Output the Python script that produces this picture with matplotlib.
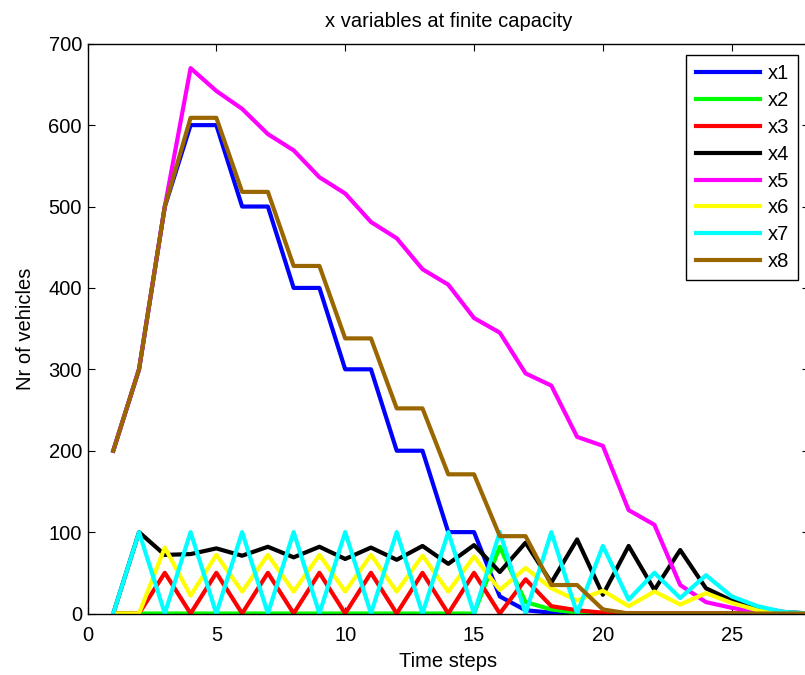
import matplotlib
matplotlib.use("Agg")
import matplotlib.pyplot as plt

plt.rcParams['font.family'] = ['Liberation Sans', 'DejaVu Sans']

t = list(range(1, 29))
x1 = [200, 300, 500, 600, 600, 500, 500, 400, 400, 300, 300, 200, 200, 100, 100, 21, 4, 1, 0, 0, 0, 0, 0, 0, 0, 0, 0, 0]
x2 = [0, 0, 0, 0, 0, 0, 0, 0, 0, 0, 0, 0, 0, 0, 0, 82, 14, 5, 1, 0, 0, 0, 0, 0, 0, 0, 0, 0]
x3 = [0, 0, 50, 0, 50, 0, 50, 0, 50, 0, 50, 0, 50, 0, 50, 0, 42, 9, 4, 1, 0, 0, 0, 0, 0, 0, 0, 0]
x4 = [0, 100, 72, 73, 80, 71, 82, 69, 82, 67, 81, 66, 83, 61, 84, 51, 87, 38, 91, 23, 83, 29, 78, 31, 16, 7, 2, 0]
x5 = [200, 300, 500, 670, 642, 620, 589, 569, 536, 516, 481, 461, 423, 404, 363, 345, 295, 280, 217, 206, 127, 109, 35, 14, 7, 2, 0, 0]
x6 = [0, 0, 81, 22, 72, 27, 72, 27, 72, 27, 72, 27, 71, 27, 70, 29, 56, 31, 16, 28, 9, 27, 11, 25, 13, 4, 1, 0]
x7 = [0, 100, 0, 100, 0, 100, 0, 100, 0, 100, 0, 100, 0, 100, 0, 100, 0, 100, 0, 83, 17, 50, 19, 47, 21, 9, 2, 0]
x8 = [200, 300, 500, 609, 609, 518, 518, 427, 427, 338, 338, 252, 252, 171, 171, 95, 95, 35, 35, 5, 0, 0, 0, 0, 0, 0, 0, 0]

series = [x1, x2, x3, x4, x5, x6, x7, x8]
labels = ['x1', 'x2', 'x3', 'x4', 'x5', 'x6', 'x7', 'x8']
colors = ['#0000ff', '#00ff00', '#ff0000', '#000000', '#ff00ff', '#ffff00', '#00ffff', '#996600']

FS = 14.5

fig = plt.figure(figsize=(8.05, 6.75), dpi=100)
ax = fig.add_axes([0.1087, 0.0911, 0.8963, 0.8441])

for s, lab, c in zip(series, labels, colors):
    ax.plot(t, s, color=c, linewidth=3, label=lab)

ax.set_xlim(0, 28)
ax.set_ylim(0, 700)
ax.set_xticks([0, 5, 10, 15, 20, 25])
ax.set_yticks(range(0, 701, 100))
ax.tick_params(direction='in', top=True, right=True, length=5, width=0.8, labelsize=FS)
ax.tick_params(axis='x', pad=9)
ax.tick_params(axis='y', pad=4)
for sp in ax.spines.values():
    sp.set_linewidth(1.0)

ax.set_title('x variables at finite capacity', fontsize=FS, pad=12)
ax.set_xlabel('Time steps', fontsize=FS, labelpad=5)
ax.set_ylabel('Nr of vehicles', fontsize=FS, labelpad=10)

leg = ax.legend(loc='upper right', bbox_to_anchor=(0.9848, 0.980), fontsize=FS,
                handlelength=3.2, handletextpad=0.38, labelspacing=0.39,
                borderpad=0.45, borderaxespad=0, fancybox=False, framealpha=1,
                edgecolor='black')
leg.get_frame().set_linewidth(1.0)

fig.savefig('out.png', dpi=100)
